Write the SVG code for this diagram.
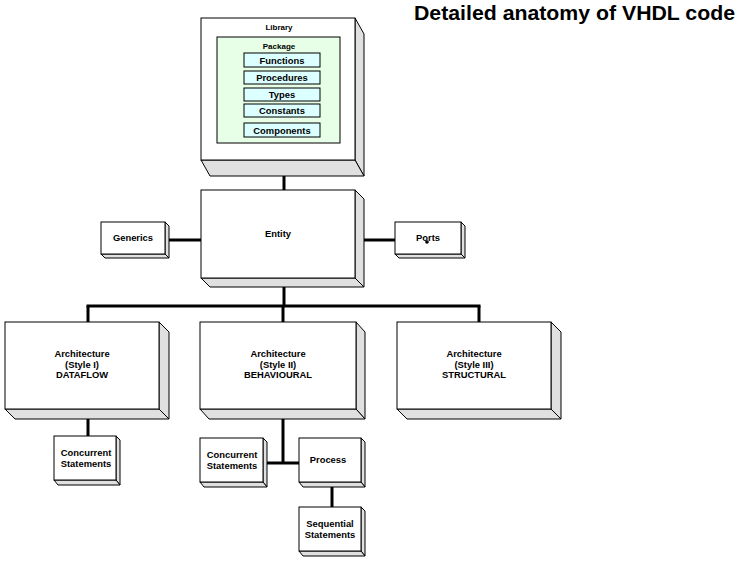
<svg xmlns="http://www.w3.org/2000/svg" width="744" height="563" viewBox="0 0 744 563">
<style>
.front{fill:#fff;stroke:#000;stroke-width:1}
.ext{fill:#e0e0e0;stroke:#000;stroke-width:1;stroke-linejoin:round}
.pkg{fill:#e6ffe6;stroke:#000;stroke-width:1}
.item{fill:#dcffff;stroke:#000;stroke-width:1}
text{font-family:"Liberation Sans",Arial,sans-serif;font-weight:bold;font-size:9.4px;text-anchor:middle;fill:#000}
.small{font-size:8px}
.title{font-size:21px;text-anchor:start}
.conn{stroke:#000;stroke-width:3;fill:none}
</style>
<rect width="744" height="563" fill="#fff"/>
<text class="title" x="414" y="20" textLength="321" lengthAdjust="spacingAndGlyphs">Detailed anatomy of VHDL code</text>

<g id="connectors">
<line class="conn" x1="284" y1="160" x2="284" y2="190"/>
<line class="conn" x1="165" y1="240" x2="201" y2="240"/>
<line class="conn" x1="355" y1="240" x2="399" y2="240"/>
<line class="conn" x1="284" y1="278" x2="284" y2="306"/>
<line class="conn" x1="86.5" y1="306" x2="480.5" y2="306"/>
<line class="conn" x1="88" y1="306" x2="88" y2="322"/>
<line class="conn" x1="283" y1="306" x2="283" y2="322"/>
<line class="conn" x1="479" y1="306" x2="479" y2="322"/>
<line class="conn" x1="88" y1="409" x2="88" y2="436"/>
<line class="conn" x1="283" y1="409" x2="283" y2="463"/>
<line class="conn" x1="262" y1="463" x2="300" y2="463"/>
<rect x="261" y="459" width="2" height="3" fill="#000"/>
<line class="conn" x1="332" y1="482" x2="332" y2="507"/>
</g>

<g id="library">
<polygon class="ext" points="355,18 364,34 364,176 355,160"/>
<polygon class="ext" points="201,160 210,176 364,176 355,160"/>
<rect class="front" x="201" y="18" width="154" height="142"/>
<text x="279" y="30" class="small">Library</text>
<g id="package">
<rect class="pkg" x="217" y="37" width="123" height="106"/>
<text x="279" y="49" class="small">Package</text>
<rect class="item" x="244" y="53" width="76" height="14"/>
<text x="282" y="63.5">Functions</text>
<rect class="item" x="244" y="71" width="76" height="13"/>
<text x="282" y="81">Procedures</text>
<rect class="item" x="244" y="88" width="76" height="13"/>
<text x="282" y="98">Types</text>
<rect class="item" x="244" y="104" width="76" height="13"/>
<text x="282" y="114">Constants</text>
<rect class="item" x="244" y="123" width="76" height="14"/>
<text x="282" y="133.5">Components</text>
</g>
</g>

<g id="entity">
<polygon class="ext" points="355,190 364,199 364,287 355,278"/>
<polygon class="ext" points="201,278 210,287 364,287 355,278"/>
<rect class="front" x="201" y="190" width="154" height="88"/>
<text x="278" y="237">Entity</text>
</g>

<g id="generics">
<polygon class="ext" points="165,222 169,226 169,258 165,254"/>
<polygon class="ext" points="101,254 105,258 169,258 165,254"/>
<rect class="front" x="101" y="222" width="64" height="32"/>
<text x="133" y="241">Generics</text>
</g>

<g id="ports">
<polygon class="ext" points="461,222 465,226 465,258 461,254"/>
<polygon class="ext" points="395,254 399,258 465,258 461,254"/>
<rect class="front" x="395" y="222" width="66" height="32"/>
<text x="428" y="241">Ports</text>
<circle cx="427" cy="242" r="1.8" fill="#000"/>
</g>

<g id="arch1">
<polygon class="ext" points="159,322 169,332 169,419 159,409"/>
<polygon class="ext" points="5,409 15,419 169,419 159,409"/>
<rect class="front" x="5" y="322" width="154" height="87"/>
<text x="82" y="357">Architecture</text>
<text x="82" y="367.5">(Style I)</text>
<text x="82" y="378">DATAFLOW</text>
</g>

<g id="arch2">
<polygon class="ext" points="356,322 365,332 365,419 356,409"/>
<polygon class="ext" points="200,409 209,419 365,419 356,409"/>
<rect class="front" x="200" y="322" width="156" height="87"/>
<text x="278" y="357">Architecture</text>
<text x="278" y="367.5">(Style II)</text>
<text x="278" y="378">BEHAVIOURAL</text>
</g>

<g id="arch3">
<polygon class="ext" points="551,322 561,332 561,419 551,409"/>
<polygon class="ext" points="397,409 407,419 561,419 551,409"/>
<rect class="front" x="397" y="322" width="154" height="87"/>
<text x="474" y="357">Architecture</text>
<text x="474" y="367.5">(Style III)</text>
<text x="474" y="378">STRUCTURAL</text>
</g>

<g id="concurrent1">
<polygon class="ext" points="116,436 120,440 120,485 116,480"/>
<polygon class="ext" points="54,480 58,485 120,485 116,480"/>
<rect class="front" x="54" y="436" width="62" height="44"/>
<text x="86" y="456">Concurrent</text>
<text x="86" y="467">Statements</text>
</g>

<g id="concurrent2">
<polygon class="ext" points="263,438 267,442 267,487 263,482"/>
<polygon class="ext" points="200,482 204,487 267,487 263,482"/>
<rect class="front" x="200" y="438" width="63" height="44"/>
<text x="232" y="458">Concurrent</text>
<text x="232" y="469">Statements</text>
</g>

<g id="process">
<polygon class="ext" points="361,438 365,442 365,487 361,482"/>
<polygon class="ext" points="299,482 303,487 365,487 361,482"/>
<rect class="front" x="299" y="438" width="62" height="44"/>
<text x="328" y="463">Process</text>
</g>

<g id="sequential">
<polygon class="ext" points="361,507 365,511 365,556 361,551"/>
<polygon class="ext" points="299,551 303,556 365,556 361,551"/>
<rect class="front" x="299" y="507" width="62" height="44"/>
<text x="330" y="527">Sequential</text>
<text x="330" y="537.5">Statements</text>
</g>
</svg>
